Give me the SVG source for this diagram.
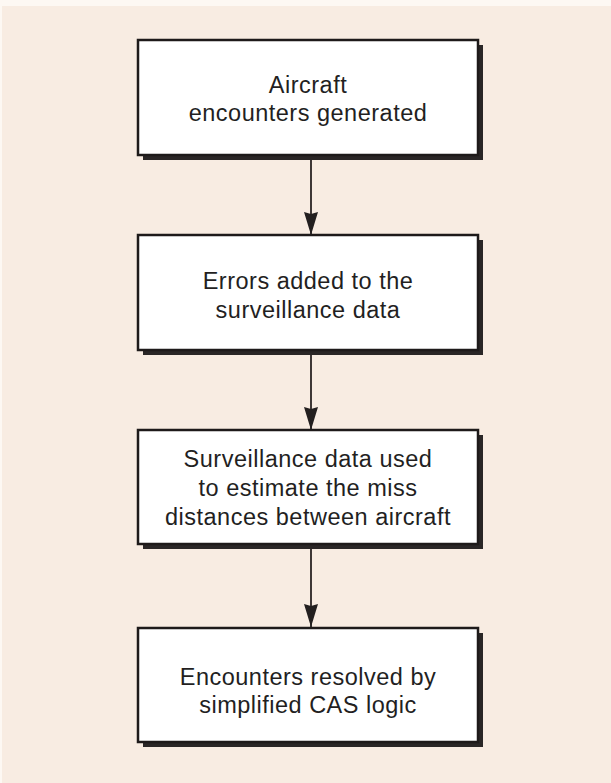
<svg xmlns="http://www.w3.org/2000/svg" width="611" height="783" viewBox="0 0 611 783">
<style>
.box{fill:#ffffff;stroke:#1e1a1a;stroke-width:2.5}
.shadow{fill:#2a2626}
.lbl{font-family:"Liberation Sans",Arial,sans-serif;font-size:23.5px;letter-spacing:0.5px;fill:#231f1f;text-anchor:middle}
.conn{stroke:#2a2424;stroke-width:1.8;fill:none}
</style>
<defs>
<marker id="arr" markerUnits="userSpaceOnUse" markerWidth="24" markerHeight="16" refX="23" refY="7" orient="auto">
<path d="M0,0 L23,7 L0,14 L2,7 Z" fill="#231f1f"/>
</marker>
</defs>
<rect x="0" y="0" width="611" height="783" fill="#fdf8f3"/>
<rect x="2" y="6" width="609" height="777" fill="#f8ece2"/>
<g id="connectors">
<line class="conn" x1="311" y1="160" x2="311" y2="235" marker-end="url(#arr)"/>
<line class="conn" x1="311" y1="355" x2="311" y2="430" marker-end="url(#arr)"/>
<line class="conn" x1="311" y1="549" x2="311" y2="627" marker-end="url(#arr)"/>
</g>
<g id="node1">
<rect class="shadow" x="143" y="45" width="340" height="115"/>
<rect class="box" x="138" y="40" width="340" height="115"/>
<text class="lbl" x="308" y="93">Aircraft</text>
<text class="lbl" x="308" y="121">encounters generated</text>
</g>
<g id="node2">
<rect class="shadow" x="143" y="240" width="340" height="115"/>
<rect class="box" x="138" y="235" width="340" height="115"/>
<text class="lbl" x="308" y="289">Errors added to the</text>
<text class="lbl" x="308" y="318">surveillance data</text>
</g>
<g id="node3">
<rect class="shadow" x="143" y="435" width="340" height="114"/>
<rect class="box" x="138" y="430" width="340" height="114"/>
<text class="lbl" x="308" y="467">Surveillance data used</text>
<text class="lbl" x="308" y="496">to estimate the miss</text>
<text class="lbl" x="308" y="525">distances between aircraft</text>
</g>
<g id="node4">
<rect class="shadow" x="143" y="633" width="340" height="114"/>
<rect class="box" x="138" y="628" width="340" height="114"/>
<text class="lbl" x="308" y="685">Encounters resolved by</text>
<text class="lbl" x="308" y="713">simplified CAS logic</text>
</g>
</svg>
